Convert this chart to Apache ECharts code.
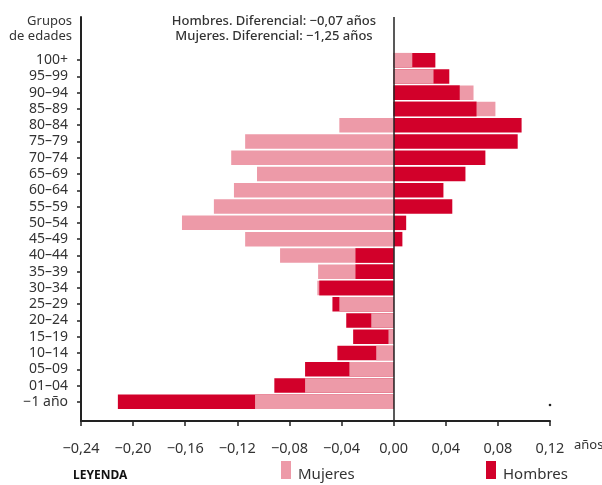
<!DOCTYPE html>
<html>
<head>
<meta charset="utf-8">
<script src="https://cdn.jsdelivr.net/npm/echarts@6/dist/echarts.min.js"></script>
<style>
html,body{margin:0;padding:0;background:#fff;}
#chart{width:602px;height:485px;}
</style>
</head>
<body>
<div id="chart"></div>
<script>
var categories = ['100+','95–99','90–94','85–89','80–84','75–79','70–74','65–69','60–64','55–59','50–54','45–49','40–44','35–39','30–34','25–29','20–24','15–19','10–14','05–09','01–04','−1 año'];
var mujeres = [0.0143, 0.0306, 0.0613, 0.0781, -0.0417, -0.114, -0.1247, -0.1049, -0.1226, -0.138, -0.1625, -0.114, -0.0872, -0.058, -0.0586, -0.0417, -0.0172, -0.004, -0.0134, -0.034, -0.068, -0.1064];
var hombres = [0.032, 0.0427, 0.0507, 0.0636, 0.0982, 0.0952, 0.0704, 0.0551, 0.0382, 0.045, 0.0096, 0.0067, -0.0293, -0.0293, -0.0571, -0.047, -0.0364, -0.0311, -0.0432, -0.068, -0.0916, -0.2117];
var xTicks = {min: -0.24, max: 0.12, interval: 0.04};
var headerLines = ['Hombres. Diferencial: −0,07 años', 'Mujeres. Diferencial: −1,25 años'];
var yTitle = ['Grupos', 'de edades'];

var PINK = '#ED9AA8', RED = '#D2002A', INK = '#333333', AXIS = '#222222';
var FONT = '"Noto Sans", sans-serif';

// Hombres drawn in front where it is the shorter bar of the same sign
var hombresFront = hombres.map(function (h, i) {
  var m = mujeres[i];
  return (h * m > 0 && Math.abs(h) < Math.abs(m)) ? h : '-';
});

function fmt(v) {
  var s = Math.abs(v).toFixed(2).replace('.', ',');
  return (v < -1e-9 ? '\u2212' : '') + s;
}

var chart = echarts.init(document.getElementById('chart'), null, {renderer: 'canvas'});
var gLeft = 81, gRight = 52;
chart.setOption({
  animation: false,
  textStyle: {fontFamily: FONT},
  grid: [
    {left: gLeft, right: gRight, top: 52, bottom: 75},
    {left: gLeft, right: gRight, top: 17, bottom: 64}
  ],
  xAxis: [
    {gridIndex: 0, type: 'value', min: xTicks.min, max: xTicks.max, interval: xTicks.interval, show: false},
    {gridIndex: 1, type: 'value', min: xTicks.min, max: xTicks.max, interval: xTicks.interval,
     axisLine: {onZero: false, lineStyle: {color: AXIS, width: 2}},
     axisTick: {show: true, length: 5, lineStyle: {color: AXIS, width: 1.5}},
     splitLine: {show: false},
     axisLabel: {margin: 20, color: INK, fontSize: 14.5, fontFamily: FONT, formatter: fmt}}
  ],
  yAxis: [
    {gridIndex: 0, type: 'category', data: categories, inverse: true,
     axisLine: {show: false, onZero: false},
     axisTick: {show: true, interval: 0, alignWithLabel: true, length: 4, lineStyle: {color: AXIS, width: 1.5}},
     axisLabel: {interval: 0, margin: 13, color: INK, fontSize: 14, fontFamily: FONT}},
    {gridIndex: 1, type: 'value', min: 0, max: 1, 
     axisLine: {show: true, onZero: false, lineStyle: {color: AXIS, width: 2}},
     axisTick: {show: false}, axisLabel: {show: false}, splitLine: {show: false}}
  ],
  series: [
    {name: 'Mujeres', type: 'bar', xAxisIndex: 0, yAxisIndex: 0, data: mujeres, barWidth: '89%', barGap: '-100%',
     itemStyle: {color: PINK}, z: 2},
    {name: 'Hombres', type: 'bar', xAxisIndex: 0, yAxisIndex: 0, data: hombres, barWidth: '89%', barGap: '-100%',
     itemStyle: {color: RED}, z: 1},
    {name: 'Hombres', type: 'bar', xAxisIndex: 0, yAxisIndex: 0, data: hombresFront, barWidth: '89%', barGap: '-100%',
     itemStyle: {color: RED}, z: 3},
    {name: 'zero', type: 'line', xAxisIndex: 1, yAxisIndex: 1, data: [], z: 10,
     markLine: {silent: true, symbol: 'none', label: {show: false},
       lineStyle: {color: AXIS, width: 1.5, type: 'solid'},
       data: [{xAxis: 0}]}}
  ],
  graphic: [
    {type: 'text', x: 274, y: 15, style: {text: headerLines[0], font: '500 13px ' + FONT, fill: INK, textAlign: 'center'}},
    {type: 'text', x: 274, y: 30, style: {text: headerLines[1], font: '500 13px ' + FONT, fill: INK, textAlign: 'center'}},
    {type: 'text', x: 72, y: 15, style: {text: yTitle[0], font: '13px ' + FONT, fill: INK, textAlign: 'right'}},
    {type: 'text', x: 72, y: 30, style: {text: yTitle[1], font: '13px ' + FONT, fill: INK, textAlign: 'right'}},
    {type: 'text', x: 574, y: 439, style: {text: 'años', font: '13px ' + FONT, fill: INK}},
    {type: 'text', x: 73, y: 470, style: {text: 'LEYENDA', font: 'bold 12px ' + FONT, fill: '#111'}},
    {type: 'rect', shape: {x: 281, y: 461, width: 10, height: 18}, style: {fill: PINK}},
    {type: 'text', x: 298, y: 467, style: {text: 'Mujeres', font: '15px ' + FONT, fill: INK}},
    {type: 'rect', shape: {x: 486, y: 461, width: 10, height: 18}, style: {fill: RED}},
    {type: 'text', x: 503, y: 467, style: {text: 'Hombres', font: '15px ' + FONT, fill: INK}},
    {type: 'circle', shape: {cx: 550, cy: 405, r: 1.3}, style: {fill: AXIS}}
  ]
});
</script>
</body>
</html>
